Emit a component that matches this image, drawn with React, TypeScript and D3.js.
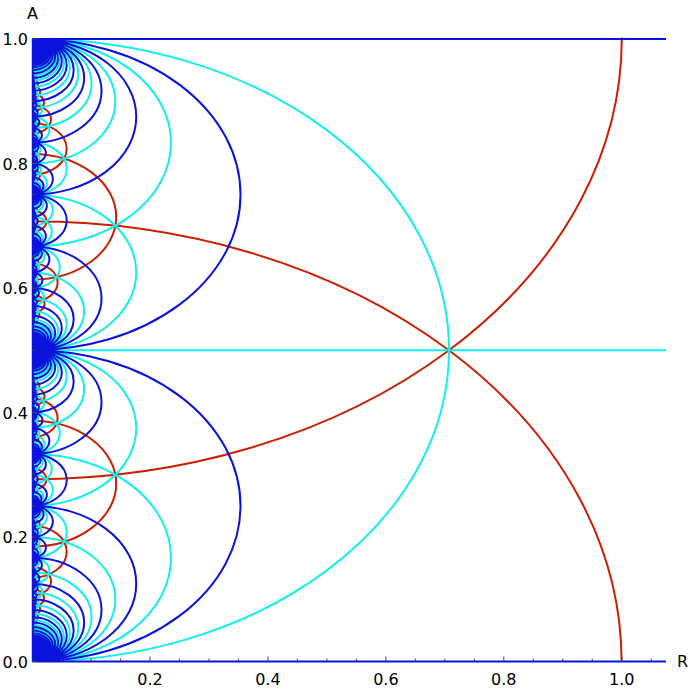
import React, { useMemo } from "react";
import * as d3 from "d3";

const width = 692;
const height = 693;

// tick marks
const rTicks = [0.2, 0.4, 0.6, 0.8, 1.0];
const rMinorTicks = [0.05, 0.1, 0.15, 0.25, 0.3, 0.35, 0.45, 0.5, 0.55, 0.65, 0.7, 0.75, 0.85, 0.9, 0.95, 1.05];
const aTicks = [0.0, 0.2, 0.4, 0.6, 0.8, 1.0];
const aMinorTicks = [0.05, 0.1, 0.15, 0.25, 0.3, 0.35, 0.45, 0.5, 0.55, 0.65, 0.7, 0.75, 0.85, 0.9, 0.95];

// curves that run straight across the plot (constant A)
const blueLevels = [0, 1];
const cyanLevels = [0.5];

// seed edge of the tessellation (0/1 -> 1/1) and how fine it goes
const fareySeed = [0, 1, 1, 1];
const maxDenomProduct = 900;
const maxRedDenom = 901;

const palette = { blue: "#0a12dc", cyan: "#12efef", red: "#c92000", axis: "#444" };

type Arc = { top: number; bottom: number; reach: number };

const App = () => {
  const x = d3.scaleLinear().domain([0, 1.075]).range([32, 666]);
  const y = d3.scaleLinear().domain([0, 1]).range([661.5, 39]);

  const { blueArcs, cyanArcs, redArcs } = useMemo(() => {
    const blue: Arc[] = [];
    const cyan: Arc[] = [];
    const red: Arc[] = [];
    const fromEnds = (p: number, q: number): Arc => {
      const top = Math.max(p, q);
      const bottom = Math.min(p, q);
      return { top, bottom, reach: (Math.SQRT2 * (top - bottom)) / 2 };
    };

    const stack = [fareySeed];
    while (stack.length) {
      const [a, b, c, d] = stack.pop()!;
      if (b * d > maxDenomProduct) continue;
      if (b % 2 === 0 || d % 2 === 0) blue.push(fromEnds(a / b, c / d));
      else cyan.push(fromEnds(a / b, c / d));
      // arcs joining two even-denominator cusps
      if (a % 2 === 1 && c % 2 === 1) cyan.push(fromEnds(a / (2 * b), c / (2 * d)));
      if ((a + b) % 2 === 1 && (c + d) % 2 === 1)
        cyan.push(fromEnds((a + b) / (2 * b), (c + d) / (2 * d)));
      stack.push([a, b, a + c, b + d], [a + c, b + d, c, d]);
    }

    for (let k = 1; k <= maxRedDenom; k += 2) {
      for (let m = 0; m <= k; m++) {
        if ((2 * m * m - 1) % k === 0) {
          const rho = 1 / (Math.SQRT2 * k);
          red.push({ top: m / k + rho, bottom: m / k - rho, reach: 1 / k });
        }
      }
    }
    return { blueArcs: blue, cyanArcs: cyan, redArcs: red };
  }, []);

  const toPath = (arcs: Arc[]) =>
    arcs
      .map((d) => {
        const rx = x(d.reach) - x(0);
        const ry = (y(d.bottom) - y(d.top)) / 2;
        return `M${x(0)},${y(d.top)}A${rx},${ry} 0 0 1 ${x(0)},${y(d.bottom)}`;
      })
      .join("");

  const font = "'DejaVu Sans', sans-serif";
  const x0 = x(0);
  const y0 = y(0);

  return (
    <svg
      width={width}
      height={height}
      style={{ position: "absolute", left: 0, top: 0, background: "#fff" }}
    >
      <defs>
        <clipPath id="plot">
          <rect x={x0} y={y(1) - 1.5} width={x(1.075) - x0} height={y0 - y(1) + 1.5} />
        </clipPath>
      </defs>

      <line x1={x0} x2={x0} y1={y(1)} y2={y0} stroke="#999" strokeWidth={1} />

      <g clipPath="url(#plot)" fill="none" strokeWidth={2}>
        <path d={toPath(redArcs)} stroke={palette.red} />
        <path d={toPath(cyanArcs)} stroke={palette.cyan} />
        {cyanLevels.map((a) => (
          <line key={a} x1={x0} x2={x(1.075)} y1={y(a)} y2={y(a)} stroke={palette.cyan} />
        ))}
        <path d={toPath(blueArcs)} stroke={palette.blue} />
      </g>
      {blueLevels.map((a) => (
        <line key={a} x1={x0} x2={x(1.075)} y1={y(a)} y2={y(a)} stroke={palette.blue} strokeWidth={2} />
      ))}

      {/* R axis ticks */}
      <g stroke={palette.axis} strokeWidth={1}>
        {rTicks.map((t) => (
          <line key={t} x1={x(t)} x2={x(t)} y1={y0} y2={y0 - 5} />
        ))}
        {rMinorTicks.map((t) => (
          <line key={t} x1={x(t)} x2={x(t)} y1={y0} y2={y0 - 3} />
        ))}
        {aTicks.map((t) => (
          <line key={t} x1={x0} x2={x0 + 5} y1={y(t)} y2={y(t)} />
        ))}
        {aMinorTicks.map((t) => (
          <line key={t} x1={x0} x2={x0 + 3} y1={y(t)} y2={y(t)} />
        ))}
      </g>

      <g fontFamily={font} fontSize={16} fill="#000">
        {rTicks.map((t) => (
          <text key={t} x={x(t)} y={685} textAnchor="middle">
            {t.toFixed(1)}
          </text>
        ))}
        {aTicks.map((t) => (
          <text key={t} x={28} y={y(t) + 6} textAnchor="end">
            {t.toFixed(1)}
          </text>
        ))}
        <text x={32.5} y={19} textAnchor="middle">A</text>
        <text x={677} y={667}>R</text>
      </g>
    </svg>
  );
};

export default App;
